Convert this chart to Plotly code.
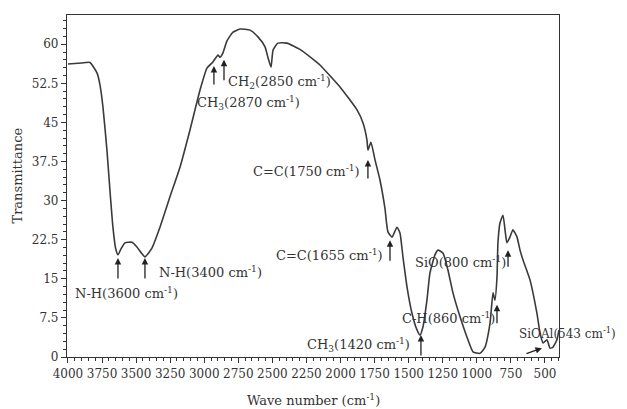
import plotly.graph_objects as go

wavenumber = [4000, 3900, 3839, 3787, 3765, 3743, 3714, 3692, 3670, 3650, 3633,
              3610, 3582, 3530, 3494, 3460, 3435, 3384, 3325, 3252, 3178,
              3105, 3031, 2980, 2936, 2899, 2885, 2863, 2834, 2789, 2738, 2664,
              2606, 2554, 2532, 2510, 2495, 2459, 2393, 2298, 2173, 2151, 2004, 1879,
              1835, 1806, 1799, 1777, 1747, 1711, 1674, 1652, 1622, 1586, 1564, 1542,
              1512, 1476, 1439, 1417, 1395, 1366, 1344, 1307, 1285, 1248, 1212, 1175,
              1123, 1072, 1028, 977, 940, 903, 881, 867, 852, 845, 830, 808, 793, 779,
              757, 735, 705, 683, 661, 610, 559, 536, 514, 485, 463, 441, 412, 397]
transmittance = [56.2, 56.4, 56.5, 54.5, 52.2, 47.9, 39.7, 32.0, 24.9, 20.8, 19.6,
                 20.8, 21.9, 22.0, 21.1, 19.9, 19.2, 20.9, 24.9, 30.7, 36.4,
                 43.5, 51.2, 55.4, 56.6, 57.9, 57.5, 58.3, 60.6, 62.3, 62.9, 62.7,
                 61.4, 59.5, 57.4, 55.6, 58.9, 60.2, 60.2, 59.0, 56.5, 56.0, 51.8, 47.4,
                 44.9, 41.6, 39.7, 41.2, 37.8, 34.0, 28.5, 24.0, 23.0, 24.9, 23.8, 19.2,
                 13.4, 8.4, 5.2, 4.2, 5.8, 10.9, 16.1, 19.6, 20.5, 19.9, 16.7, 12.3,
                 7.7, 3.8, 1.0, 0.7, 1.9, 6.5, 12.3, 10.9, 15.3, 21.9, 25.7, 27.2, 24.4, 21.9,
                 23.0, 24.4, 23.0, 20.5, 18.6, 14.8, 8.4, 4.6, 2.7, 3.3, 1.7, 1.9, 3.3, 5.2]

y_ticks = [0, 7.5, 15, 22.5, 30, 37.5, 45, 52.5, 60]
y_tick_labels = ["0", "7.5", "15", "22.5", "30", "37.5", "45", "52.5", "60"]
x_ticks = [4000, 3750, 3500, 3250, 3000, 2750, 2500, 2250, 2000, 1750, 1500, 1250, 1000, 750, 500]

# band labels: text, arrow tip (wn, T)
band_labels = ["N-H(3600 cm<sup>-1</sup>)", "N-H(3400 cm<sup>-1</sup>)",
               "CH<sub>3</sub>(2870 cm<sup>-1</sup>)", "CH<sub>2</sub>(2850 cm<sup>-1</sup>)",
               "C=C(1750 cm<sup>-1</sup>)", "C=C(1655 cm<sup>-1</sup>)",
               "CH<sub>3</sub>(1420 cm<sup>-1</sup>)", "C-H(860 cm<sup>-1</sup>)",
               "SiO(800 cm<sup>-1</sup>)", "SiOAl(543 cm<sup>-1</sup>)"]
arrow_wn = [3633, 3435, 2929, 2855, 1799, 1637, 1410, 852, 771, 522]
arrow_t = [19.0, 19.0, 55.8, 57.0, 37.8, 22.4, 4.2, 10.0, 20.5, 1.7]

# layout styling for labels (position of text, anchor, font size, arrow tail offset in px)
label_pos = [(3567, 12.3, "center", 13), (3347, 16.3, "left", 13), (3068, 48.7, "left", 13),
             (2841, 52.7, "left", 13), (1843, 35.7, "right", 13), (1674, 19.6, "right", 13),
             (1476, 2.3, "right", 13), (1564, 7.5, "left", 13), (1468, 18.2, "left", 13),
             (705, 4.6, "left", 12)]
arrow_tail = [(0, 22), (0, 22), (0, 20), (0, 22), (0, 20), (0, 22), (0, 22), (0, 20), (0, 18), (-17, 6)]

FONT = "DejaVu Serif"
fig = go.Figure()
fig.add_trace(go.Scatter(x=wavenumber, y=transmittance, mode="lines",
                         line=dict(color="#3a3a3a", width=1.6, shape="spline", smoothing=0.5),
                         hoverinfo="skip", showlegend=False))

annotations = []
for i, txt in enumerate(band_labels):
    ax, ay = arrow_tail[i]
    annotations.append(dict(x=arrow_wn[i], y=arrow_t[i], xref="x", yref="y", text="",
                            showarrow=True, arrowhead=2, arrowsize=1, arrowwidth=1.3,
                            arrowcolor="#222", ax=ax, ay=ay, standoff=0))
    lx, ly, anc, fs = label_pos[i]
    annotations.append(dict(x=lx, y=ly, xref="x", yref="y", text=txt, showarrow=False,
                            xanchor=anc, yanchor="middle",
                            font=dict(family=FONT, size=fs, color="#333")))

# axis titles
annotations.append(dict(x=0.5, y=-0.126, xref="paper", yref="paper", yanchor="middle",
                        text="Wave number (cm<sup>-1</sup>)", showarrow=False,
                        font=dict(family=FONT, size=13, color="#333")))
annotations.append(dict(x=-0.1, y=0.53, xref="paper", yref="paper", xanchor="center",
                        text="Transmittance", showarrow=False, textangle=-90,
                        font=dict(family=FONT, size=13, color="#333")))

fig.update_layout(
    width=627, height=409,
    margin=dict(l=67, r=68, t=15, b=52, autoexpand=False),
    paper_bgcolor="white", plot_bgcolor="white",
    font=dict(family=FONT, size=12, color="#333"),
    annotations=annotations,
    xaxis=dict(range=[4007, 397], tickmode="array", tickvals=x_ticks, automargin=False,
               ticks="outside", ticklen=5, tickwidth=1, tickcolor="#333",
               showline=True, linecolor="#333", linewidth=1.2, mirror=True,
               showgrid=False, zeroline=False,
               minor=dict(dtick=50, ticks="outside", ticklen=3, tickcolor="#333", showgrid=False),
               tickfont=dict(family=FONT, size=12, color="#333")),
    yaxis=dict(range=[0, 65.6], tickmode="array", tickvals=y_ticks, ticktext=y_tick_labels,
               automargin=False,
               ticks="outside", ticklen=5, tickwidth=1, tickcolor="#333",
               showline=True, linecolor="#333", linewidth=1.2, mirror=True,
               showgrid=False, zeroline=False,
               minor=dict(dtick=1.5, ticks="outside", ticklen=3, tickcolor="#333", showgrid=False),
               tickfont=dict(family=FONT, size=12, color="#333")),
)

fig.write_html("out.html", config={"displayModeBar": False},
               post_script="document.body.style.margin='0';")
